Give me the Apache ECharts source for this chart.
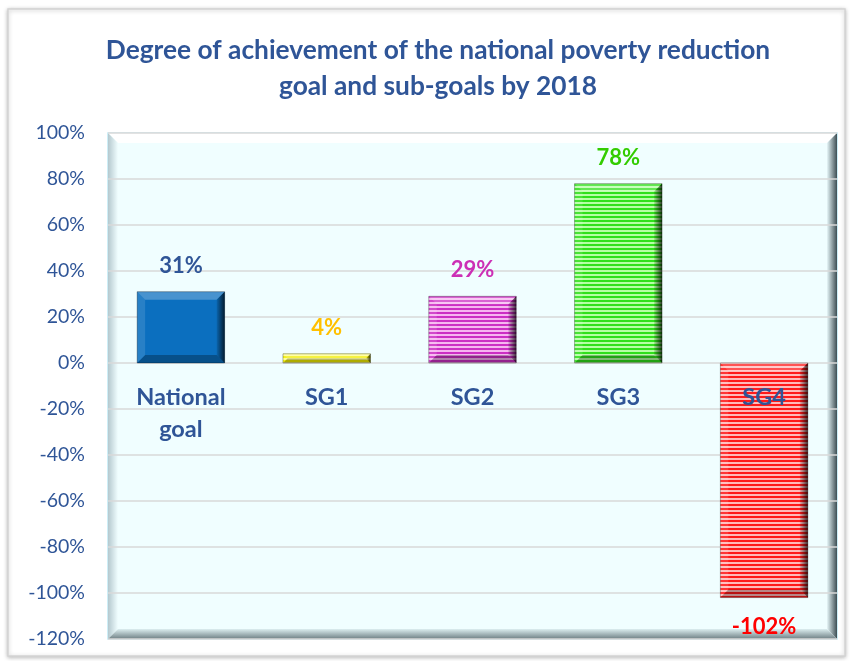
<!DOCTYPE html>
<html>
<head>
<meta charset="utf-8">
<script src="https://cdn.jsdelivr.net/npm/echarts@6/dist/echarts.min.js"></script>
<style>html,body{margin:0;padding:0;background:#fff;}#c{width:853px;height:661px;}</style>
</head>
<body>
<div id="c"></div>
<script>
const titleText = 'Degree of achievement of the national poverty reduction\ngoal and sub-goals by 2018';
const categories = ['National goal', 'SG1', 'SG2', 'SG3', 'SG4'];
const values = [31, 4, 29, 78, -102];
const yTicks = { min: -120, max: 100, interval: 20 };

const FONT = 'Lato, "Open Sans", sans-serif';
const DARK = '#2F5597';

function stripe(c1, c2) {
  const cv = document.createElement('canvas');
  cv.width = 4; cv.height = 4;
  const ctx = cv.getContext('2d');
  ctx.fillStyle = c2; ctx.fillRect(0, 0, 4, 4);
  ctx.fillStyle = c1; ctx.fillRect(0, 0, 4, 2);
  return { image: cv, repeat: 'repeat' };
}
const fills = [
  '#0B6FBF',
  stripe('#F2EE00', '#FFFF8A'),
  stripe('#CC2FC4', '#F6B6F0'),
  stripe('#2FE01A', '#B6FFA4'),
  stripe('#FF1A1A', '#FFBABA')
];
const labelColors = [DARK, '#FFC000', '#CC2FB5', '#33CC00', '#FF0000'];

const chart = echarts.init(document.getElementById('c'), null, { renderer: 'canvas' });

const G = { left: 108, right: 16, top: 133, bottom: 22 };
const W = 853, H = 661;
const pw = W - G.left - G.right, ph = H - G.top - G.bottom;
const B = 10;

const option = {
  animation: false,
  title: {
    text: titleText,
    left: 438,
    top: 33,
    padding: 0,
    textAlign: 'center',
    textStyle: { fontFamily: FONT, fontWeight: 'bold', fontSize: 26.3, color: DARK, lineHeight: 36 }
  },
  graphic: [
    { type: 'rect', z: -5, shape: { x: 8, y: 9, width: 837, height: 647 },
      style: { fill: '#fff', stroke: '#d4d4d4', lineWidth: 1.5, shadowBlur: 4, shadowColor: 'rgba(0,0,0,0.25)', shadowOffsetX: 0, shadowOffsetY: 1 } },
    { type: 'rect', z: 0, shape: { x: G.left, y: G.top, width: pw, height: ph },
      style: { fill: '#F0FEFF', stroke: '#BDE9F5', lineWidth: 1.5 } },
    { type: 'polygon', z: 0, shape: { points: [[G.left, G.top], [G.left + pw, G.top], [G.left + pw - B, G.top + B], [G.left + B, G.top + B]] },
      style: { fill: '#FFFFFF' } },
    { type: 'polygon', z: 0, shape: { points: [[G.left, G.top], [G.left + B, G.top + B], [G.left + B, G.top + ph - B], [G.left, G.top + ph]] },
      style: { fill: { type: 'linear', x: 0, y: 0, x2: 1, y2: 0, colorStops: [{ offset: 0, color: '#B4C8CE' }, { offset: 1, color: '#F0FEFF' }] } } },
    { type: 'polygon', z: 0, shape: { points: [[G.left + pw, G.top], [G.left + pw, G.top + ph], [G.left + pw - B, G.top + ph - B], [G.left + pw - B, G.top + B]] },
      style: { fill: { type: 'linear', x: 0, y: 0, x2: 1, y2: 0, colorStops: [{ offset: 0, color: '#E6F6F8' }, { offset: 1, color: '#3E4E54' }] } } },
    { type: 'polygon', z: 0, shape: { points: [[G.left, G.top + ph], [G.left + pw, G.top + ph], [G.left + pw - B, G.top + ph - B], [G.left + B, G.top + ph - B]] },
      style: { fill: { type: 'linear', x: 0, y: 0, x2: 0, y2: 1, colorStops: [{ offset: 0, color: '#DCEEF0' }, { offset: 1, color: '#6E7F84' }] } } }
  ],
  grid: { left: G.left, right: G.right, top: G.top, bottom: G.bottom, containLabel: false, outerBoundsMode: 'none' },
  xAxis: {
    type: 'category',
    data: categories,
    z: 5,
    axisLine: { show: false },
    axisTick: { show: false },
    splitLine: { show: false },
    axisLabel: { show: false }
  },
  yAxis: {
    type: 'value',
    min: yTicks.min, max: yTicks.max, interval: yTicks.interval,
    z: 1,
    axisLine: { show: false },
    axisTick: { show: false },
    splitLine: { show: true, lineStyle: { color: '#D9D9D9', width: 1.5 } },
    axisLabel: { margin: 23, color: DARK, fontFamily: FONT, fontSize: 19.5, formatter: '{value}%' }
  },
  series: [{
    type: 'custom',
    z: 2,
    data: values.map((v, i) => [i, v]),
    encode: { x: 0, y: 1 },
    renderItem: function (params, api) {
      const i = api.value(0);
      const v = api.value(1);
      const base = api.coord([i, 0]);
      const tip = api.coord([i, v]);
      const bw = api.size([1, 0])[0] * 0.6;
      const x0 = base[0] - bw / 2, x1 = base[0] + bw / 2;
      const y0 = Math.min(base[1], tip[1]), y1 = Math.max(base[1], tip[1]);
      const b = Math.min(8, (y1 - y0) / 2);
      const children = [
        { type: 'rect', shape: { x: x0, y: y0, width: bw, height: y1 - y0 }, style: { fill: fills[i] } },
        { type: 'polygon', shape: { points: [[x0, y0], [x1, y0], [x1 - b, y0 + b], [x0 + b, y0 + b]] }, style: { fill: 'rgba(255,255,255,0.25)' } },
        { type: 'polygon', shape: { points: [[x0, y0], [x0 + b, y0 + b], [x0 + b, y1 - b], [x0, y1]] }, style: { fill: 'rgba(255,255,255,0.12)' } },
        { type: 'polygon', shape: { points: [[x1, y0], [x1, y1], [x1 - b, y1 - b], [x1 - b, y0 + b]] },
          style: { fill: { type: 'linear', x: 0, y: 0, x2: 1, y2: 0, colorStops: [{ offset: 0, color: 'rgba(0,0,0,0.1)' }, { offset: 1, color: 'rgba(0,0,0,0.75)' }] } } },
        { type: 'polygon', shape: { points: [[x0, y1], [x1, y1], [x1 - b, y1 - b], [x0 + b, y1 - b]] }, style: { fill: 'rgba(0,0,0,0.28)' } },
        { type: 'rect', shape: { x: x0, y: y0, width: bw, height: y1 - y0 }, style: { fill: 'none', stroke: 'rgba(0,0,0,0.3)', lineWidth: 1 } }
      ];
      const ly = v >= 0 ? tip[1] - 26 : tip[1] + 29;
      children.push({
        type: 'text',
        style: { text: v + '%', x: base[0], y: ly, align: 'center', verticalAlign: 'middle',
          fill: labelColors[i], font: 'bold 22px ' + FONT }
      });
      const name = categories[i] === 'National goal' ? 'National\ngoal' : categories[i];
      children.push({
        type: 'text',
        z2: 10,
        style: { text: name, x: base[0], y: base[1] + 18, align: 'center', verticalAlign: 'top',
          fill: DARK, font: 'bold 23.5px ' + FONT, lineHeight: 32 }
      });
      return { type: 'group', children: children };
    }
  }]
};
chart.setOption(option);
</script>
</body>
</html>
